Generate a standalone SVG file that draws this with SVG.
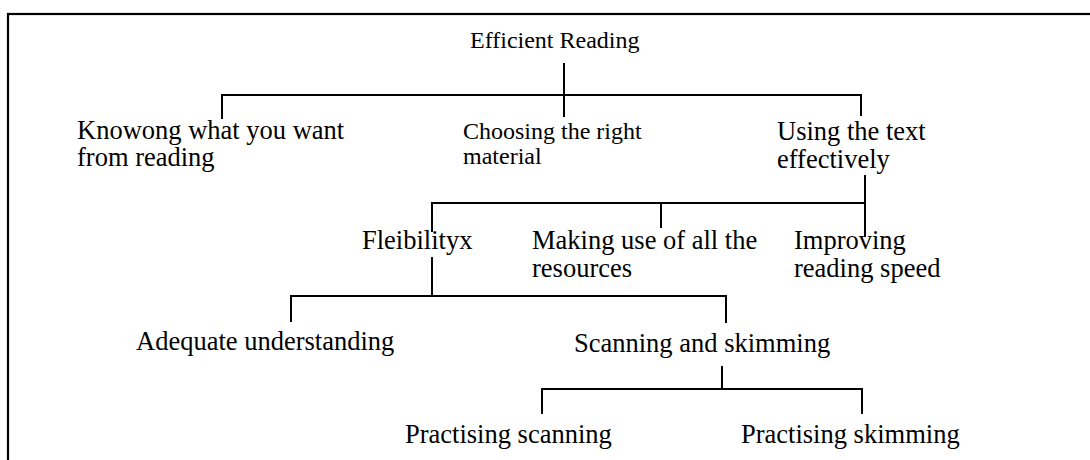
<svg xmlns="http://www.w3.org/2000/svg" width="1090" height="460" viewBox="0 0 1090 460">
  <style>
    .t { font-family: "Liberation Serif", "Times New Roman", serif; font-size: 26.5px; fill: #000; }
    .s { font-size: 24px; }
    .c { fill: none; stroke: #000; stroke-width: 2; stroke-linecap: butt; }
  </style>
  <rect x="8" y="14" width="1100" height="500" fill="#fff" stroke="#000" stroke-width="2.2"/>
  <g id="connectors" class="c">
    <path d="M564 63 V117"/>
    <path d="M222 119 V95 H861 V116"/>
    <path d="M865 175 V237"/>
    <path d="M432 232 V203 H865"/>
    <path d="M661 203 V228"/>
    <path d="M432 257 V296"/>
    <path d="M291 322 V296 H726 V323"/>
    <path d="M722 366 V389"/>
    <path d="M542 414 V389 H862 V414"/>
  </g>
  <g id="n-efficient"><text class="t s" x="470" y="48">Efficient Reading</text></g>
  <g id="n-knowing"><text class="t" x="77" y="139">Knowong what you want</text><text class="t" x="77" y="166">from reading</text></g>
  <g id="n-choosing"><text class="t s" x="463" y="139">Choosing the right</text><text class="t s" x="463" y="164">material</text></g>
  <g id="n-using"><text class="t" x="777" y="140">Using the text</text><text class="t" x="777" y="168">effectively</text></g>
  <g id="n-flex"><text class="t" x="362" y="249">Fleibilityx</text></g>
  <g id="n-making"><text class="t" x="532" y="249">Making use of all the</text><text class="t" x="532" y="277">resources</text></g>
  <g id="n-improving"><text class="t" x="794" y="249">Improving</text><text class="t" x="794" y="277">reading speed</text></g>
  <g id="n-adequate"><text class="t" x="136" y="350">Adequate understanding</text></g>
  <g id="n-scanskim"><text class="t" x="574" y="352">Scanning and skimming</text></g>
  <g id="n-pscan"><text class="t" x="405" y="443">Practising scanning</text></g>
  <g id="n-pskim"><text class="t" x="741" y="443">Practising skimming</text></g>
</svg>
